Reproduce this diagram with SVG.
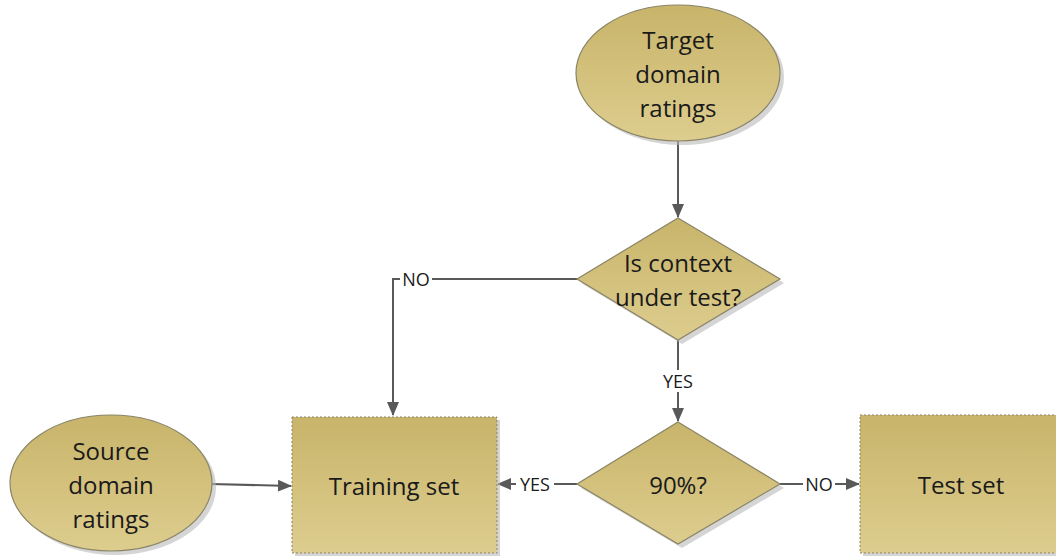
<svg xmlns="http://www.w3.org/2000/svg" width="1056" height="556" viewBox="0 0 1056 556">
<style>
.node{stroke:#8a8466;stroke-width:1.2;fill:url(#g)}
.rect{stroke:#8a8466;stroke-width:1;stroke-dasharray:2 2;fill:url(#g)}
.shadow{fill:#b9b9b9;opacity:0.6}
.t{font-family:"Open Sans","Liberation Sans",sans-serif;font-size:24px;fill:#1a1a1a;text-anchor:middle;dominant-baseline:central}
.lbl{font-family:"Open Sans","Liberation Sans",sans-serif;font-size:18px;fill:#1a1a1a;text-anchor:middle;dominant-baseline:central}
.c{stroke:#595959;stroke-width:2;fill:none}
.bg{fill:#ffffff}
</style>
<defs>
<linearGradient id="g" x1="0" y1="0" x2="0" y2="1">
<stop offset="0" stop-color="#c8b46a"/>
<stop offset="1" stop-color="#ddcd8e"/>
</linearGradient>
<marker id="a" markerWidth="14" markerHeight="14" refX="13" refY="7" orient="auto" markerUnits="userSpaceOnUse" viewBox="0 0 14 14">
<path d="M0,1 L14,7 L0,13 Z" fill="#595959"/>
</marker>
</defs>
<rect width="1056" height="556" fill="#ffffff"/>
<g id="connectors">
<line class="c" x1="678" y1="140" x2="678" y2="217" marker-end="url(#a)"/>
<polyline class="c" points="577,279 393,279 393,415" marker-end="url(#a)"/>
<line class="c" x1="678" y1="340" x2="678" y2="421" marker-end="url(#a)"/>
<line class="c" x1="577" y1="484" x2="498" y2="484" marker-end="url(#a)"/>
<line class="c" x1="780" y1="484" x2="859" y2="484" marker-end="url(#a)"/>
<line class="c" x1="211" y1="484" x2="291" y2="486" marker-end="url(#a)"/>
<rect class="bg" x="400" y="268" width="32" height="22"/>
<text class="lbl" x="416" y="279">NO</text>
<rect class="bg" x="659" y="370" width="38" height="22"/>
<text class="lbl" x="678" y="381">YES</text>
<rect class="bg" x="516" y="473" width="38" height="22"/>
<text class="lbl" x="535" y="484">YES</text>
<rect class="bg" x="803" y="473" width="32" height="22"/>
<text class="lbl" x="819" y="484">NO</text>
</g>
<g id="target">
<ellipse class="shadow" cx="682" cy="77" rx="102" ry="68"/>
<ellipse class="node" cx="678" cy="73" rx="102" ry="68"/>
<text class="t" x="678" y="39">Target</text>
<text class="t" x="678" y="73">domain</text>
<text class="t" x="678" y="107">ratings</text>
</g>
<g id="decision1">
<polygon class="shadow" points="682,222 784,283 682,344 581,283"/>
<polygon class="node" points="678,218 780,279 678,340 577,279"/>
<text class="t" x="678" y="262">Is context</text>
<text class="t" x="678" y="296">under test?</text>
</g>
<g id="decision2">
<polygon class="shadow" points="682,426 784,488 682,548 581,488"/>
<polygon class="node" points="678,422 780,484 678,544 577,484"/>
<text class="t" x="678" y="484">90%?</text>
</g>
<g id="source">
<ellipse class="shadow" cx="115" cy="487" rx="101" ry="68"/>
<ellipse class="node" cx="111" cy="483" rx="101" ry="68"/>
<text class="t" x="111" y="450">Source</text>
<text class="t" x="111" y="484">domain</text>
<text class="t" x="111" y="518">ratings</text>
</g>
<g id="training">
<rect class="shadow" x="295" y="420" width="205" height="136"/>
<rect class="rect" x="292" y="417" width="205" height="136"/>
<text class="t" x="394" y="485">Training set</text>
</g>
<g id="test">
<rect class="shadow" x="863" y="418" width="196" height="138"/>
<rect class="rect" x="860" y="415" width="200" height="138"/>
<text class="t" x="961" y="484">Test set</text>
</g>
</svg>
